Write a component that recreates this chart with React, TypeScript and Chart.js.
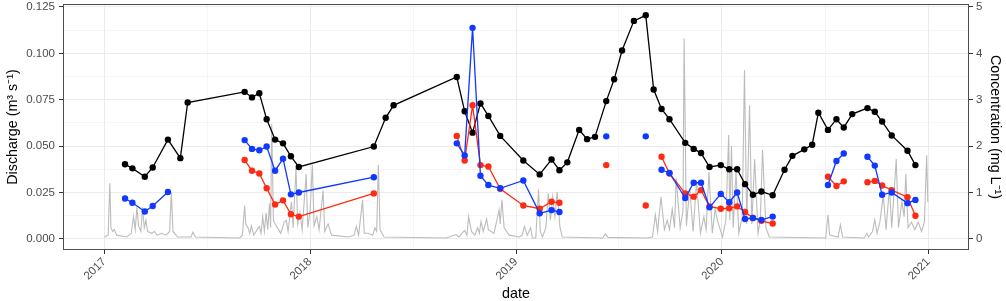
import React, { useEffect, useRef } from 'react';
import { Chart, registerables } from 'chart.js';

Chart.register(...registerables);

// ---------- data ----------
const sampleDates = [
  '2017-02-07', '2017-02-20', '2017-03-14', '2017-03-28', '2017-04-24', '2017-05-16', '2017-05-29',
  '2017-09-07', '2017-09-20', '2017-10-03', '2017-10-16', '2017-10-31', '2017-11-14', '2017-11-28', '2017-12-12',
  '2018-04-24', '2018-05-15', '2018-05-29',
  '2018-09-18', '2018-10-02', '2018-10-16', '2018-10-30', '2018-11-13', '2018-12-04',
  '2019-01-14', '2019-02-12', '2019-03-05', '2019-03-19', '2019-04-02', '2019-04-23', '2019-05-07', '2019-05-21',
  '2019-06-10', '2019-06-24', '2019-07-08', '2019-07-29', '2019-08-19', '2019-09-02', '2019-09-16', '2019-09-30',
  '2019-10-28', '2019-11-12', '2019-11-25', '2019-12-10', '2019-12-30',
  '2020-01-14', '2020-01-28', '2020-02-11', '2020-02-25', '2020-03-11', '2020-03-31',
  '2020-04-21', '2020-05-05', '2020-05-26', '2020-06-09', '2020-06-20', '2020-07-07', '2020-07-22', '2020-08-04', '2020-08-19',
  '2020-09-15', '2020-09-28', '2020-10-11', '2020-10-28', '2020-11-25', '2020-12-09',
];

const blackConc = [
  1.61, 1.52, 1.34, 1.54, 2.14, 1.74, 2.94,
  3.17, 3.05, 3.14, 2.58, 2.14, 2.06, 1.78, 1.55,
  1.99, 2.61, 2.88,
  3.49, 2.75, 2.29, 2.92, 2.65, 2.22,
  1.69, 1.39, 1.71, 1.48, 1.65, 2.35, 2.15, 2.20,
  2.97, 3.44, 4.06, 4.70, 4.82, 3.22, 2.80, 2.58,
  2.07, 1.94, 1.85, 1.55, 1.59,
  1.50, 1.50, 1.18, 0.95, 1.02, 0.94,
  1.49, 1.79, 1.93, 2.03, 2.72, 2.35, 2.58, 2.40, 2.69,
  2.82, 2.74, 2.53, 2.23, 1.90, 1.59,
];

const blueConc = [
  0.87, 0.78, 0.59, 0.71, 1.01, null, null,
  2.13, 1.94, 1.91, 1.99, 1.47, 1.73, 0.96, 1.00,
  1.33, null, null,
  2.06, 1.80, 4.55, 1.36, 1.16, 1.09,
  1.26, 0.55, 0.62, 0.58, null, null, null, null,
  2.21, null, null, null, 2.21, null, 1.49, 1.42,
  0.88, 1.21, 1.21, 0.68, 0.97,
  0.79, 1.00, 0.43, 0.45, 0.41, 0.48,
  null, null, null, null, null, 1.16, 1.68, 1.84, null,
  1.77, 1.58, 0.95, 1.00, 0.77, 0.84,
];

const redConc = [
  null, null, null, null, null, null, null,
  1.70, 1.47, 1.41, 1.09, 0.74, 0.83, 0.53, 0.48,
  0.98, null, null,
  2.22, 1.69, 2.88, 1.59, 1.56, 1.08,
  0.72, 0.65, 0.80, 0.78, null, null, null, null,
  1.59, null, null, null, 0.72, null, 1.77, 1.41,
  0.98, 0.91, 1.05, 0.70, 0.65,
  0.66, 0.70, 0.58, 0.45, 0.39, 0.33,
  null, null, null, null, null, 1.34, 1.14, 1.24, null,
  1.22, 1.25, 1.15, 1.05, 0.90, 0.50,
];

const dischargeDates = [
  '2017-01-01', '2017-01-08', '2017-01-11', '2017-01-13', '2017-01-16', '2017-01-19', '2017-01-23',
  '2017-02-10', '2017-02-18', '2017-02-22', '2017-02-25', '2017-02-28', '2017-03-03', '2017-03-07',
  '2017-03-10', '2017-03-13', '2017-03-16', '2017-03-19', '2017-03-26', '2017-03-31', '2017-04-05',
  '2017-04-13', '2017-04-21', '2017-04-27', '2017-04-30', '2017-05-03', '2017-05-11', '2017-06-04',
  '2017-06-07', '2017-06-12', '2017-08-29', '2017-09-03', '2017-09-07', '2017-09-09', '2017-09-13',
  '2017-09-16', '2017-09-19', '2017-09-23', '2017-10-03', '2017-10-06', '2017-10-09', '2017-10-12',
  '2017-10-15', '2017-10-18', '2017-10-21', '2017-10-23', '2017-10-25', '2017-10-28', '2017-11-02',
  '2017-11-10', '2017-11-16', '2017-11-20', '2017-11-23', '2017-11-29', '2017-12-02', '2017-12-07',
  '2017-12-10', '2017-12-14', '2017-12-18', '2017-12-25', '2017-12-28', '2018-01-01', '2018-01-05',
  '2018-01-08', '2018-01-13', '2018-01-17', '2018-01-24', '2018-01-27', '2018-02-02', '2018-02-08',
  '2018-03-10', '2018-03-20', '2018-03-24', '2018-03-28', '2018-04-04', '2018-04-07', '2018-04-14',
  '2018-04-22', '2018-04-26', '2018-04-29', '2018-05-02', '2018-05-05', '2018-05-12', '2018-08-30',
  '2018-09-17', '2018-09-22', '2018-09-27', '2018-10-02', '2018-10-06', '2018-10-09', '2018-10-14',
  '2018-10-20', '2018-10-25', '2018-10-28', '2018-10-31', '2018-11-04', '2018-11-10', '2018-11-13',
  '2018-11-23', '2018-12-02', '2018-12-04', '2018-12-07', '2018-12-11', '2018-12-20', '2019-01-07',
  '2019-01-12', '2019-01-16', '2019-01-21', '2019-01-27', '2019-01-30', '2019-02-05', '2019-02-10',
  '2019-02-13', '2019-02-17', '2019-02-23', '2019-02-27', '2019-03-03', '2019-03-07', '2019-03-11',
  '2019-03-15', '2019-03-20', '2019-03-24', '2019-06-04', '2019-06-08', '2019-06-13', '2019-08-22',
  '2019-08-31', '2019-09-05', '2019-09-09', '2019-09-15', '2019-09-21', '2019-09-26', '2019-09-30',
  '2019-10-05', '2019-10-09', '2019-10-12', '2019-10-19', '2019-10-24', '2019-10-26', '2019-10-30',
  '2019-11-05', '2019-11-11', '2019-11-17', '2019-11-24', '2019-11-30', '2019-12-04', '2019-12-09',
  '2019-12-15', '2019-12-20', '2019-12-24', '2020-01-02', '2020-01-08', '2020-01-13', '2020-01-15',
  '2020-01-18', '2020-01-21', '2020-01-26', '2020-01-31', '2020-02-06', '2020-02-10', '2020-02-14',
  '2020-02-19', '2020-02-23', '2020-02-28', '2020-03-05', '2020-03-09', '2020-03-13', '2020-03-19',
  '2020-03-25', '2020-07-03', '2020-07-07', '2020-07-10', '2020-07-25', '2020-07-29', '2020-08-02',
  '2020-09-09', '2020-09-14', '2020-09-17', '2020-09-24', '2020-09-28', '2020-10-02', '2020-10-07',
  '2020-10-13', '2020-10-18', '2020-10-24', '2020-10-28', '2020-11-05', '2020-11-09', '2020-11-15',
  '2020-11-19', '2020-11-22', '2020-11-26', '2020-12-02', '2020-12-08', '2020-12-14', '2020-12-20',
  '2020-12-25', '2020-12-29', '2020-12-31',
];

const dischargeValues = [
  0.001, 0.002, 0.030, 0.006, 0.004, 0.005, 0.002,
  0.001, 0.003, 0.012, 0.005, 0.017, 0.007, 0.004,
  0.017, 0.006, 0.010, 0.004, 0.003, 0.004, 0.002,
  0.003, 0.002, 0.004, 0.025, 0.004, 0.001, 0.001,
  0.0035, 0.001, 0.0005, 0.002, 0.018, 0.008, 0.006,
  0.003, 0.007, 0.002, 0.0067, 0.003, 0.012, 0.004,
  0.014, 0.005, 0.019, 0.006, 0.062, 0.010, 0.007,
  0.003, 0.009, 0.010, 0.004, 0.020, 0.006, 0.038,
  0.008, 0.014, 0.005, 0.035, 0.006, 0.015, 0.040,
  0.007, 0.012, 0.005, 0.026, 0.004, 0.008, 0.002,
  0.001, 0.002, 0.0067, 0.002, 0.021, 0.003, 0.003,
  0.002, 0.006, 0.004, 0.040, 0.005, 0.001, 0.0005,
  0.0023, 0.001, 0.003, 0.0045, 0.002, 0.012, 0.004,
  0.002, 0.006, 0.003, 0.0094, 0.004, 0.0107, 0.005,
  0.003, 0.0156, 0.008, 0.021, 0.006, 0.002, 0.001,
  0.002, 0.0067, 0.002, 0.006, 0.0005, 0.0005, 0.0267,
  0.004, 0.001, 0.006, 0.0245, 0.010, 0.0227, 0.012,
  0.0254, 0.006, 0.001, 0.0005, 0.0027, 0.0008, 0.0005,
  0.001, 0.013, 0.004, 0.0227, 0.005, 0.010, 0.005,
  0.016, 0.006, 0.0325, 0.006, 0.015, 0.108, 0.007,
  0.027, 0.004, 0.031, 0.003, 0.012, 0.005, 0.036,
  0.003, 0.016, 0.010, 0.001, 0.010, 0.056, 0.010,
  0.050, 0.006, 0.036, 0.003, 0.012, 0.091, 0.008,
  0.072, 0.008, 0.043, 0.003, 0.010, 0.048, 0.006,
  0.001, 0.0005, 0.013, 0.002, 0.001, 0.0076, 0.001,
  0.0005, 0.003, 0.001, 0.004, 0.0103, 0.003, 0.009,
  0.0236, 0.005, 0.028, 0.006, 0.043, 0.006, 0.020,
  0.012, 0.035, 0.006, 0.009, 0.005, 0.009, 0.004,
  0.009, 0.045, 0.020,
];

const yearTickLabels = ['2017', '2018', '2019', '2020', '2021'];
const dischargeTicks = [0, 0.025, 0.05, 0.075, 0.1, 0.125];
const concTicks = [0, 1, 2, 3, 4, 5];

// ---------- helpers ----------
const ORIGIN = Date.UTC(2017, 0, 1);
const toDay = (s: string) => {
  const [y, m, d] = s.split('-').map(Number);
  return (Date.UTC(y, m - 1, d) - ORIGIN) / 86400000;
};

const FONT = "'Liberation Sans', Arial, Helvetica, sans-serif";
const GRID = '#ebebeb';
const TICKCOL = '#333333';
const TEXTCOL = '#4d4d4d';

export default function App() {
  const ref = useRef<HTMLCanvasElement | null>(null);

  useEffect(() => {
    if (!ref.current) return;

    const yearDays = yearTickLabels.map((y) => toDay(`${y}-01-01`));
    const xMinor: number[] = [];
    for (let i = 0; i < yearDays.length - 1; i++) xMinor.push((yearDays[i] + yearDays[i + 1]) / 2);
    const dataStart = toDay(dischargeDates[0]);
    const dataEnd = toDay(dischargeDates[dischargeDates.length - 1]);
    const span = dataEnd - dataStart;
    const xMin = dataStart - span * 0.05;
    const xMax = dataEnd + span * 0.05;

    const isMajorX = (v: number) => yearDays.some((d) => Math.abs(d - v) < 0.01);
    const isMajorY = (v: number) => dischargeTicks.some((d) => Math.abs(d - v) < 1e-9);

    const yMinor: number[] = [];
    for (let i = 0; i < dischargeTicks.length - 1; i++) yMinor.push((dischargeTicks[i] + dischargeTicks[i + 1]) / 2);

    const yMin = -0.006;
    const yMax = 0.1266;
    const ratio = 0.025; // 1 mg/L on right axis = 0.025 m3/s on left axis

    const concData = (vals: (number | null)[]) =>
      sampleDates.map((d, i) => ({ x: toDay(d), y: vals[i] }));

    const borderPlugin = {
      id: 'panelBorder',
      afterDraw(chart: any) {
        const { ctx, chartArea } = chart;
        ctx.save();
        ctx.strokeStyle = '#4d4d4d';
        ctx.lineWidth = 1;
        ctx.strokeRect(
          Math.round(chartArea.left) + 0.5,
          Math.round(chartArea.top) + 0.5,
          Math.round(chartArea.right - chartArea.left) - 1,
          Math.round(chartArea.bottom - chartArea.top) - 1
        );
        ctx.restore();
      },
    };

    const pointStyle = (color: string) => ({
      borderColor: color,
      backgroundColor: color,
      pointBackgroundColor: color,
      pointBorderColor: color,
      pointBorderWidth: 0,
      pointRadius: 3.2,
      borderWidth: 1.3,
      tension: 0,
      spanGaps: false,
      yAxisID: 'y2',
    });

    const chart = new Chart(ref.current, {
      type: 'line',
      data: {
        datasets: [
          { label: 'blue', data: concData(blueConc), ...pointStyle('#1038ff') },
          { label: 'red', data: concData(redConc), ...pointStyle('#ff2a12') },
          { label: 'black', data: concData(blackConc), ...pointStyle('#000000') },
          {
            label: 'Discharge',
            data: dischargeDates.map((d, i) => ({ x: toDay(d), y: dischargeValues[i] })),
            borderColor: '#bcbcbc',
            borderWidth: 1.1,
            pointRadius: 0,
            tension: 0,
            yAxisID: 'y',
          },
        ],
      } as any,
      options: {
        responsive: false,
        animation: false,
        devicePixelRatio: 1,
        parsing: false as any,
        normalized: true,
        layout: { padding: { top: 3, left: 0, right: 0, bottom: 0 } },
        plugins: { legend: { display: false }, tooltip: { enabled: false } },
        scales: {
          x: {
            type: 'linear',
            min: xMin,
            max: xMax,
            afterBuildTicks: (scale: any) => {
              scale.ticks = [...yearDays, ...xMinor].sort((a, b) => a - b).map((v) => ({ value: v }));
            },
            afterFit: (scale: any) => {
              scale.height = 51;
              scale.paddingLeft = 0;
              scale.paddingRight = 0;
            },
            border: { display: false },
            grid: {
              color: GRID,
              lineWidth: (ctx: any) => (ctx.tick && isMajorX(ctx.tick.value) ? 1 : 0.5),
              tickColor: (ctx: any) => (ctx.tick && isMajorX(ctx.tick.value) ? TICKCOL : 'rgba(0,0,0,0)'),
              tickLength: 4,
              tickWidth: 1,
              drawTicks: true,
            },
            ticks: {
              autoSkip: false,
              minRotation: 45,
              maxRotation: 45,
              padding: 1,
              color: TEXTCOL,
              font: { family: FONT, size: 11.5 },
              callback: (v: any) => {
                const idx = yearDays.findIndex((d) => Math.abs(d - Number(v)) < 0.01);
                return idx >= 0 ? yearTickLabels[idx] : '';
              },
            },
            title: {
              display: true,
              text: 'date',
              color: '#000000',
              font: { family: FONT, size: 14.3, lineHeight: 1 },
              padding: { top: 0, bottom: 0 },
            },
          },
          y: {
            type: 'linear',
            position: 'left',
            min: yMin,
            max: yMax,
            afterBuildTicks: (scale: any) => {
              scale.ticks = [...dischargeTicks, ...yMinor].sort((a, b) => a - b).map((v) => ({ value: v }));
            },
            afterFit: (scale: any) => {
              scale.width = 63;
              scale.paddingTop = 0;
              scale.paddingBottom = 0;
            },
            border: { display: false },
            grid: {
              color: GRID,
              lineWidth: (ctx: any) => (ctx.tick && isMajorY(ctx.tick.value) ? 1 : 0.5),
              tickColor: (ctx: any) => (ctx.tick && isMajorY(ctx.tick.value) ? TICKCOL : 'rgba(0,0,0,0)'),
              tickLength: 4,
              drawTicks: true,
            },
            ticks: {
              padding: 4,
              color: TEXTCOL,
              font: { family: FONT, size: 11.5 },
              callback: (v: any) => (isMajorY(Number(v)) ? Number(v).toFixed(3) : ''),
            },
            title: {
              display: true,
              text: 'Discharge (m³ s⁻¹)',
              color: '#000000',
              font: { family: FONT, size: 14.3, lineHeight: 1 },
              padding: { top: 6, bottom: 0 },
            },
          },
          y2: {
            type: 'linear',
            position: 'right',
            min: yMin / ratio,
            max: yMax / ratio,
            afterBuildTicks: (scale: any) => {
              scale.ticks = concTicks.map((v) => ({ value: v }));
            },
            afterFit: (scale: any) => {
              scale.width = 37;
              scale.paddingTop = 0;
              scale.paddingBottom = 0;
            },
            border: { display: false },
            grid: {
              drawOnChartArea: false,
              color: TICKCOL,
              tickColor: TICKCOL,
              tickLength: 4,
              drawTicks: true,
            },
            ticks: {
              padding: 3,
              color: TEXTCOL,
              font: { family: FONT, size: 11.5 },
              callback: (v: any) => String(v),
            },
            title: {
              display: true,
              text: 'Concentration (mg L⁻¹)',
              color: '#000000',
              font: { family: FONT, size: 14.3, lineHeight: 1 },
              padding: { top: 4, bottom: 0 },
            },
          },
        },
      } as any,
      plugins: [borderPlugin],
    });

    return () => chart.destroy();
  }, []);

  return (
    <div style={{ position: 'absolute', left: 0, top: 0, width: 1006, height: 301, background: '#ffffff' }}>
      <canvas ref={ref} width={1006} height={301} style={{ display: 'block', width: 1006, height: 301 }} />
    </div>
  );
}
